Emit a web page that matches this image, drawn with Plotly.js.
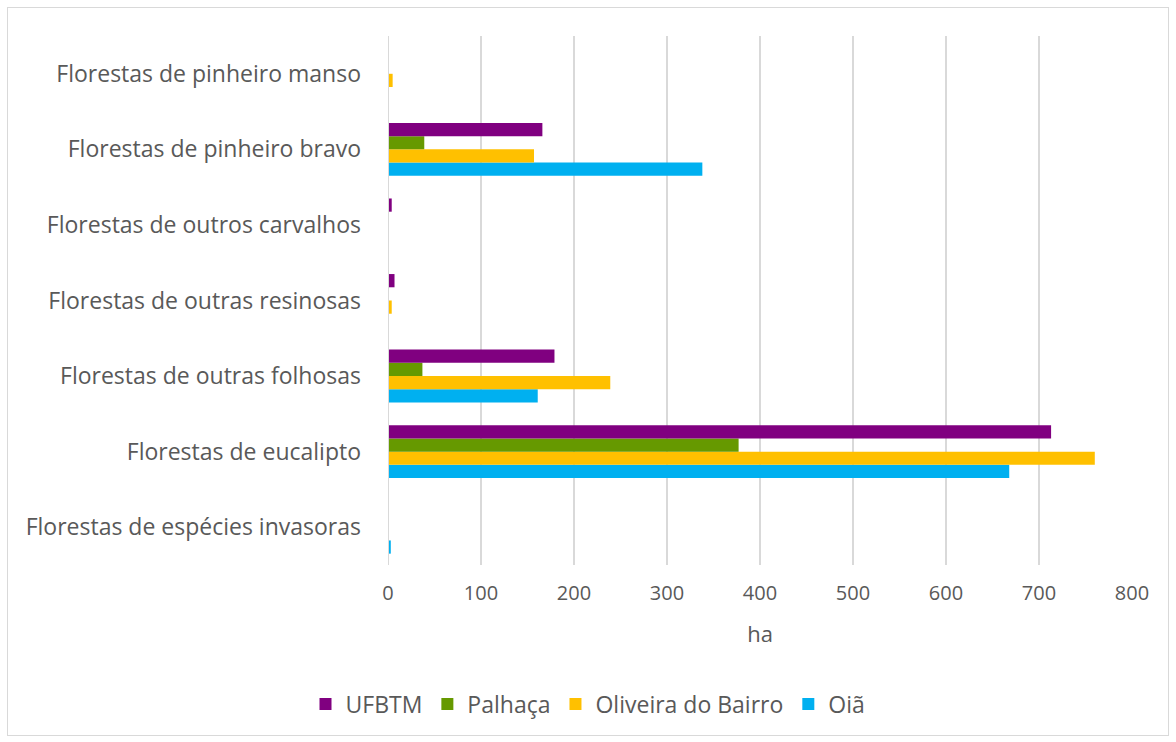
<!DOCTYPE html>
<html>
<head>
<meta charset="utf-8">
<script src="https://cdn.plot.ly/plotly-3.0.1.min.js"></script>
<style>
html,body{margin:0;padding:0;background:#fff;}
#chart{position:absolute;left:0;top:0;width:1176px;height:742px;}
#frame{position:absolute;left:7px;top:7px;width:1160px;height:727px;border:1px solid #d9d9d9;pointer-events:none;}
</style>
</head>
<body>
<div id="chart"></div>
<div id="frame"></div>
<script>
const categories = [
  "Florestas de espécies invasoras",
  "Florestas de eucalipto",
  "Florestas de outras folhosas",
  "Florestas de outras resinosas",
  "Florestas de outros carvalhos",
  "Florestas de pinheiro bravo",
  "Florestas de pinheiro manso"
];
const seriesNames = ["UFBTM", "Palhaça", "Oliveira do Bairro", "Oiã"];
const ufbtm    = [0, 713, 179, 7, 4, 166, 0];
const palhaca  = [0, 377, 37, 0, 0, 39, 0];
const oliveira = [0, 760, 239, 4, 0, 157, 5];
const oia      = [3, 668, 161, 0, 0, 338, 0];
const colors = ["#800080", "#669900", "#ffc000", "#00b0f0"];
const xTicks = [0, 100, 200, 300, 400, 500, 600, 700, 800];
const xTitle = "ha";

const values = [ufbtm, palhaca, oliveira, oia];
const traces = [];
for (let i = 3; i >= 0; i--) {
  traces.push({
    type: "bar",
    orientation: "h",
    name: seriesNames[i],
    y: categories,
    x: values[i],
    marker: {color: colors[i]},
    hoverinfo: "x+y"
  });
}

const layout = {
  width: 1176,
  height: 742,
  margin: {l: 388, r: 44, t: 36, b: 177},
  paper_bgcolor: "#fff",
  plot_bgcolor: "#fff",
  font: {family: "'Open Sans', sans-serif", color: "#595959", size: 20},
  barmode: "group",
  bargap: 0.30,
  bargroupgap: 0,
  xaxis: {
    range: [0, 800],
    tickvals: xTicks,
    showgrid: true,
    gridcolor: "#d9d9d9",
    gridwidth: 2,
    zeroline: false,
    showline: false,
    ticks: "",
    tickfont: {size: 20, color: "#595959"},
    ticklabelstandoff: 14,
    title: {text: xTitle, font: {size: 22, color: "#595959"}, standoff: 21}
  },
  yaxis: {
    type: "category",
    showgrid: false,
    zeroline: false,
    showline: false,
    ticks: "",
    tickfont: {size: 23, color: "#595959"},
    ticklabelstandoff: 26
  },
  shapes: [{
    type: "line", xref: "x", yref: "paper",
    x0: 0, x1: 0, y0: 0, y1: 1,
    line: {color: "#d9d9d9", width: 2}
  }],
  showlegend: true,
  legend: {
    orientation: "h",
    traceorder: "reversed",
    xref: "container", yref: "container",
    x: 0.5, xanchor: "center",
    y: 0.051, yanchor: "middle",
    font: {size: 23, color: "#595959"},
    itemwidth: 30
  }
};

Plotly.newPlot("chart", traces, layout, {displayModeBar: false, staticPlot: true});
</script>
</body>
</html>
